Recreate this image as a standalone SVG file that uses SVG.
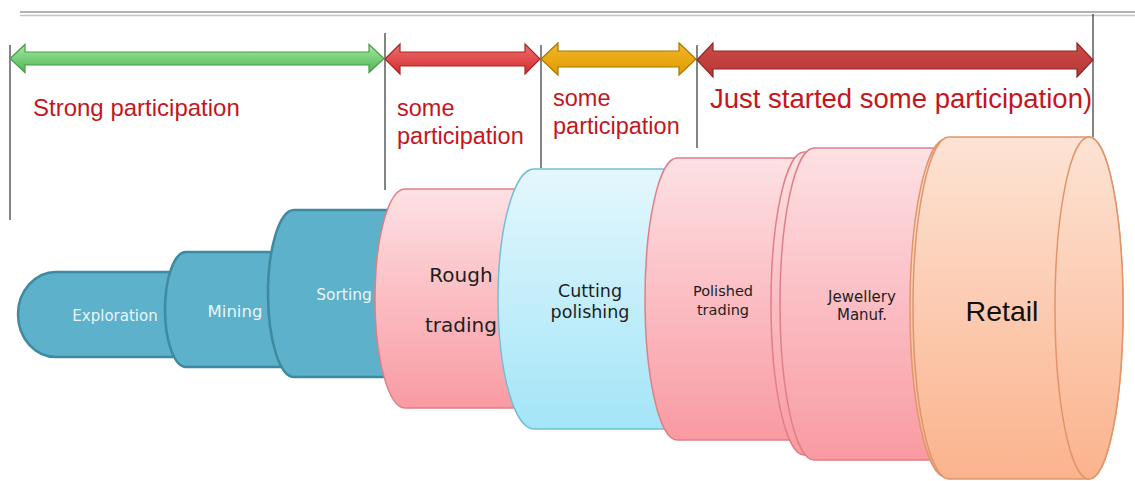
<svg xmlns="http://www.w3.org/2000/svg" width="1135" height="481" viewBox="0 0 1135 481">
<defs>
<linearGradient id="gPink" x1="0" y1="0" x2="0" y2="1"><stop offset="0" stop-color="#fde1e4"/><stop offset="1" stop-color="#f99aa2"/></linearGradient>
<linearGradient id="gBlue" x1="0" y1="0" x2="0" y2="1"><stop offset="0" stop-color="#e4f7fd"/><stop offset="1" stop-color="#a3e5f7"/></linearGradient>
<linearGradient id="gPeach" x1="0" y1="0" x2="0" y2="1"><stop offset="0" stop-color="#fde3d4"/><stop offset="1" stop-color="#fbb38d"/></linearGradient>
<linearGradient id="gGreen" x1="0" y1="0" x2="0" y2="1"><stop offset="0" stop-color="#a6e8a6"/><stop offset="1" stop-color="#4db64d"/></linearGradient>
<linearGradient id="gRed" x1="0" y1="0" x2="0" y2="1"><stop offset="0" stop-color="#f07070"/><stop offset="1" stop-color="#d02c2c"/></linearGradient>
<linearGradient id="gOrange" x1="0" y1="0" x2="0" y2="1"><stop offset="0" stop-color="#f2b628"/><stop offset="1" stop-color="#e09c00"/></linearGradient>
<linearGradient id="gDark" x1="0" y1="0" x2="0" y2="1"><stop offset="0" stop-color="#cc4a48"/><stop offset="1" stop-color="#b83634"/></linearGradient>
</defs>
<style>
.vline{stroke:#333;stroke-width:1.2;fill:none}
.lbl{font-family:"Liberation Sans",Arial,sans-serif;fill:#c4161c}
.teal{fill:#5db1ca;stroke:#3d8aa1;stroke-width:2.5}
.pink{fill:url(#gPink);stroke:#e07f88;stroke-width:1.5}
.blue{fill:url(#gBlue);stroke:#72bfd6;stroke-width:1.5}
.peach{fill:url(#gPeach);stroke:#e0956b;stroke-width:1.5}
.tw{font-family:"DejaVu Sans",Verdana,sans-serif;fill:#eaf6fa;text-anchor:middle}
.tk{font-family:"DejaVu Sans",Verdana,sans-serif;fill:#1e1e1e;text-anchor:middle}
</style>
<rect width="1135" height="481" fill="#ffffff"/>
<g id="topline">
<line x1="20" y1="12" x2="1135" y2="12" stroke="#9a9a9a" stroke-width="1.5"/>
<line x1="20" y1="15.5" x2="1135" y2="15.5" stroke="#c4c4c4" stroke-width="1.5"/>
</g>
<g id="connectors">
<line class="vline" x1="10" y1="45" x2="10" y2="220"/>
<line class="vline" x1="385" y1="33" x2="385" y2="190"/>
<line class="vline" x1="541" y1="45" x2="541" y2="168"/>
<line class="vline" x1="697" y1="45" x2="697" y2="148"/>
<line class="vline" x1="1093" y1="14" x2="1093" y2="137"/>
<polygon fill="url(#gGreen)" stroke="#4a9c4a" stroke-width="1.2" points="10,58.5 25,44.5 25,52 369,52 369,44.5 384,58.5 369,72.5 369,65 25,65 25,72.5"/>
<polygon fill="url(#gRed)" stroke="#a82626" stroke-width="1.2" points="385,59 400,44 400,52 525,52 525,44 540,59 525,74 525,66 400,66 400,74"/>
<polygon fill="url(#gOrange)" stroke="#a87800" stroke-width="1.2" points="541,59 558,43 558,51 679,51 679,43 696,59 679,75 679,67 558,67 558,75"/>
<polygon fill="url(#gDark)" stroke="#8c2826" stroke-width="1.2" points="697,60 713,43 713,51 1077,51 1077,43 1093,60 1077,77 1077,69 713,69 713,77"/>
</g>
<g id="labels">
<text class="lbl" x="33" y="116" font-size="24">Strong participation</text>
<text class="lbl" x="397" y="116" font-size="23.5">some</text>
<text class="lbl" x="397" y="144" font-size="23.5">participation</text>
<text class="lbl" x="553" y="106" font-size="23.5">some</text>
<text class="lbl" x="553" y="134" font-size="23.5">participation</text>
<text class="lbl" x="710" y="108" font-size="27.5">Just started some participation)</text>
</g>
<g id="exploration">
<path class="teal" d="M56 272 L220 272 L220 357 L56 357 A38 42.5 0 0 1 56 272 Z"/>
<text class="tw" x="115" y="321" font-size="15">Exploration</text>
</g>
<g id="mining">
<path class="teal" d="M186 252 L300 252 L300 367 L186 367 A21 57.5 0 0 1 186 252 Z"/>
<text class="tw" x="235" y="317" font-size="16.5">Mining</text>
</g>
<g id="sorting">
<path class="teal" d="M294 210 L410 210 L410 377 L294 377 A26 83.5 0 0 1 294 210 Z"/>
<text class="tw" x="344" y="300" font-size="15.5">Sorting</text>
</g>
<g id="rough-trading">
<path class="pink" d="M405 189 L540 189 L540 408 L405 408 A30 109.5 0 0 1 405 189 Z"/>
<text class="tk" x="461" y="282" font-size="20">Rough</text>
<text class="tk" x="461" y="332" font-size="20">trading</text>
</g>
<g id="cutting-polishing">
<path class="blue" d="M534 169 L690 169 L690 429 L534 429 A36 130 0 0 1 534 169 Z"/>
<text class="tk" x="590" y="297" font-size="17.5">Cutting</text>
<text class="tk" x="590" y="318" font-size="17.5">polishing</text>
</g>
<g id="polished-trading">
<path class="pink" d="M677 158 L810 158 L810 440 L677 440 A32 141 0 0 1 677 158 Z"/>
<text class="tk" x="723" y="296" font-size="14.5">Polished</text>
<text class="tk" x="723" y="315" font-size="14.5">trading</text>
</g>
<g id="jewellery-manuf">
<path class="pink" d="M804 152 L900 152 L900 455 L804 455 A33 151.5 0 0 1 804 152 Z"/>
<path class="pink" d="M814 148 L960 148 L960 460 L814 460 A34 156 0 0 1 814 148 Z"/>
<text class="tk" x="862" y="302" font-size="15">Jewellery</text>
<text class="tk" x="862" y="320" font-size="15">Manuf.</text>
</g>
<g id="retail">
<path class="peach" d="M946 139 L1000 139 L1000 477 L946 477 A36 169 0 0 1 946 139 Z"/>
<path class="peach" d="M949 137 L1089 137 A34 171 0 0 1 1089 479 L949 479 A36 171 0 0 1 949 137 Z"/>
<ellipse class="peach" cx="1089" cy="308" rx="34" ry="171"/>
<text x="1002" y="321" font-family="'Liberation Sans',Arial,sans-serif" font-size="28.5" fill="#111" text-anchor="middle">Retail</text>
</g>
</svg>
